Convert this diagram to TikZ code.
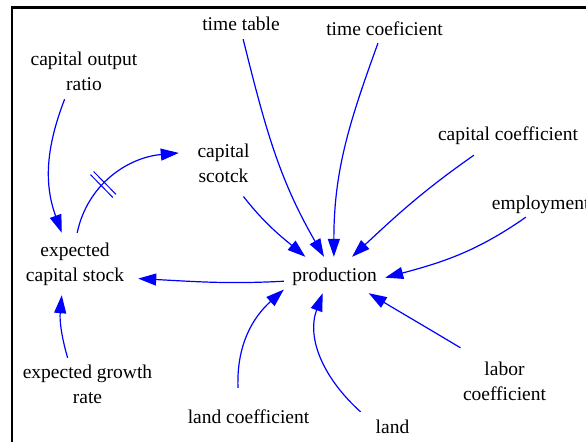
\documentclass[tikz,border=0pt]{standalone}
\usepackage{fontspec}
\setmainfont{Liberation Serif}
\usetikzlibrary{arrows.meta,decorations.markings}

\begin{document}
\begin{tikzpicture}[x=1pt,y=1pt,
  var/.style={inner sep=0pt, align=center, font=\fontsize{19.5}{25}\selectfont, text=black},
  link/.style={draw=blue, line width=1.2pt, -{Triangle[length=18pt,width=12pt]}},
  delaybar/.style={draw=blue, line width=1pt, -},
]
\useasboundingbox (0,0) rectangle (586,-442);
\fill[white] (0,0) rectangle (586,-442);
% frame (left and top edges)
\draw[line width=2.5pt] (12.2,-442) -- (12.2,-7.3) -- (586,-7.3);

% variables
\node[var, minimum width=101pt, minimum height=36pt, text height=15.5pt, text depth=2pt] (prod) at (334.5,-275) {production};
\node[var, minimum width=126pt, minimum height=62pt] (ecs) at (75,-264) {expected\\capital stock};
\node[var, minimum width=89pt, minimum height=66pt] (cs) at (223.5,-163.3) {capital\\scotck};
\node[var, minimum width=100pt, minimum height=30pt] (tt) at (241,-24) {time table};
\node[var, minimum width=140pt, minimum height=29pt] (tc) at (384.5,-28.5) {time coeficient};
\node[var, minimum width=120pt, minimum height=55pt] (cor) at (84,-71.5) {capital output\\ratio};
\node[var, minimum width=150pt, minimum height=39pt] (cc) at (508,-135.5) {capital coefficient};
\node[var, minimum width=110pt, minimum height=24.6pt] (emp) at (540.7,-204.7) {employment};
\node[var, minimum width=110pt, minimum height=66pt] (lc) at (504.5,-381) {labor\\coefficient};
\node[var, minimum width=80pt, minimum height=29.4pt] (land) at (392.5,-426.7) {land};
\node[var, minimum width=130pt, minimum height=57.4pt] (lcoef) at (248.5,-416.7) {land coefficient};
\node[var, minimum width=150pt, minimum height=52.4pt] (egr) at (87.5,-384.2) {expected growth\\rate};

% causal links into production
\draw[link] (tt.-82) to[out=-76,in=120] (prod.120);
\draw[link] (tc.-114) to[out=-110,in=90] (prod.92);
\draw[link] (cc.-150) to[out=-145,in=43] (prod.46);
\draw[link] (emp.-140) to[out=-145,in=15] (prod.-3);
\draw[link] (lc.143) to[out=149,in=-31] (prod.-28);
\draw[link] (land.155) to[out=138,in=-110] (prod.-123);
\draw[link] (lcoef.110) to[out=92,in=222] (prod.-164);
\draw[link] (cs.-59) to[out=-52,in=140] (prod.148);

% links into expected capital stock
\draw[link] (prod.187) to[out=183,in=-3] (ecs.-13);
\draw[link] (cor.-125) to[out=-111,in=110] (ecs.113);
\draw[link] (egr.127) to[out=106,in=-95] (ecs.-113);

% delayed link to capital stock
\draw[link, postaction={decorate}, decoration={markings,
    mark=at position 0.4 with {\draw[delaybar] (-2.2pt,-16pt) -- (-2.2pt,16pt) (2.2pt,-16pt) -- (2.2pt,16pt);}}]
  (ecs.86) to[out=78,in=185] (cs.167);
\end{tikzpicture}
\end{document}
